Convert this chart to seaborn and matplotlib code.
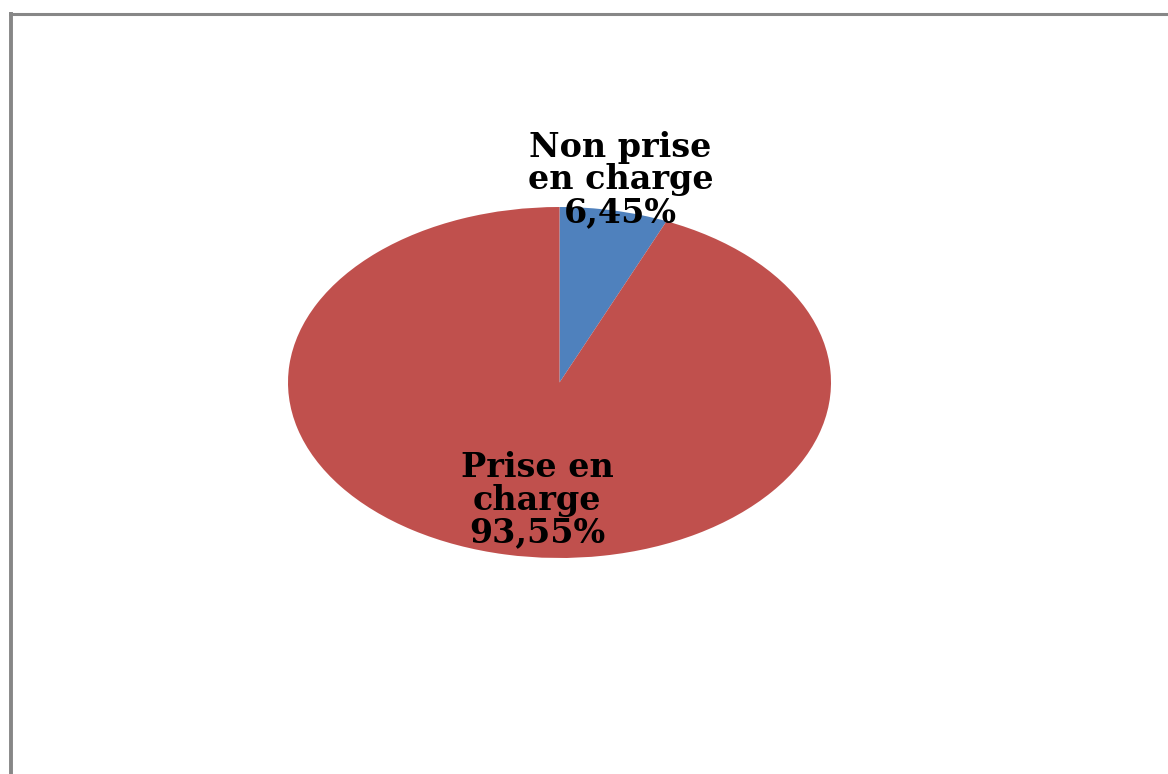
import matplotlib
matplotlib.use("Agg")
import matplotlib.pyplot as plt
import seaborn as sns
from matplotlib.lines import Line2D

sns.set_theme(style="white")
plt.rcParams['font.family'] = ['DejaVu Serif', 'DejaVu Sans']

categories = ["Non prise\nen charge", "Prise en\ncharge"]
values = [6.45, 93.55]
value_labels = ["6,45%", "93,55%"]
colors = ["#4F81BD", "#C0504D"]

W, H = 1168, 774
fig = plt.figure(figsize=(W / 100, H / 100), dpi=100)
fig.patch.set_facecolor("white")

# pie area (ellipse) in pixels
cx, cy, rx, ry = 559.5, 382.5, 271.5, 175.5
ax = fig.add_axes([(cx - rx) / W, (H - cy - ry) / H, 2 * rx / W, 2 * ry / H])
ax.pie(values, colors=colors, startangle=90, counterclock=False,
       wedgeprops=dict(linewidth=0), radius=1, frame=False)
ax.set_aspect("auto")
ax.set_xlim(-1, 1)
ax.set_ylim(-1, 1)
ax.axis("off")

label_pos = [(0.225, 1.155), (-0.083, -0.67)]
for cat, vl, (x, y) in zip(categories, value_labels, label_pos):
    ax.text(x, y, f"{cat}\n{vl}", ha="center", va="center",
            fontsize=24, fontweight="bold", color="black",
            linespacing=0.98, clip_on=False)

# outer frame (only top and left visible)
border = "#878787"
fig.add_artist(Line2D([10.8 / W, 10.8 / W], [0, 1 - 12 / H], color=border,
                      lw=2.8, transform=fig.transFigure, solid_capstyle="butt"))
fig.add_artist(Line2D([9.2 / W, 1], [1 - 13.6 / H, 1 - 13.6 / H], color=border,
                      lw=2.2, transform=fig.transFigure, solid_capstyle="butt"))

fig.savefig("out.png", dpi=100, facecolor="white")
